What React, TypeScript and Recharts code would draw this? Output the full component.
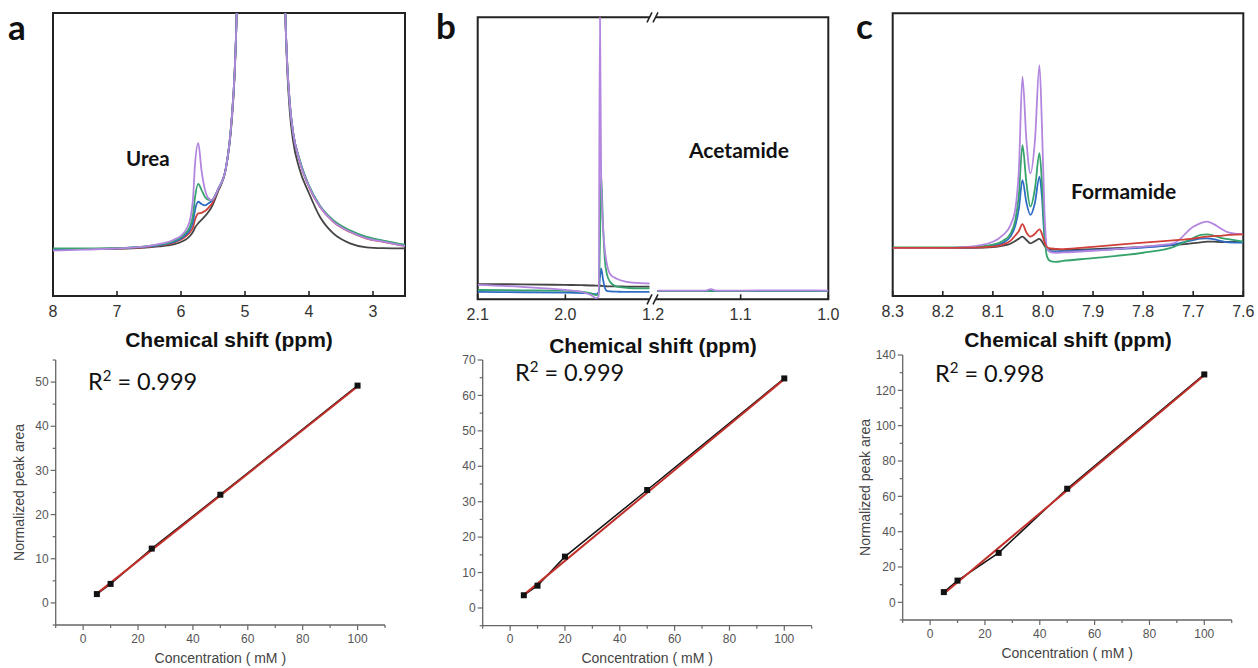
import React from 'react'
import { LineChart, Line, XAxis, YAxis, ReferenceArea, ReferenceLine } from 'recharts'

const ARIAL = '"Liberation Sans", Arial, sans-serif'
const CALIBRI = 'Lato, "Open Sans", sans-serif'

// a: urea spectra, intensity in arbitrary units (0-100 = plot height)
const ureaPpm = [8, 7.5, 7, 6.5, 6.33, 6.12, 5.96, 5.86, 5.81, 5.78, 5.73, 5.68, 5.625, 5.57, 5.52, 5.42, 5.3, 5.21, 5.16, 5.13, 4.75, 4.37, 4.34, 4.3, 4.25, 4.15, 4.0, 3.83, 3.62, 3.36, 3.1, 2.84, 2.5]
const ureaBlack = [16.5, 16.6, 16.7, 17.2, 17.5, 18.2, 19.5, 21.2, 22.8, 24.2, 25.7, 26.9, 28.2, 29.8, 31.5, 37.0, 45, 61, 79, 100, 2000, 100, 80, 65, 55, 45, 36.3, 28, 22.1, 18.6, 17.2, 16.9, 16.8]
const ureaRed = [16.5, 16.6, 16.8, 17.4, 17.9, 18.8, 20.5, 22.5, 24.5, 27.0, 29.2, 29.4, 30.0, 31.2, 32.5, 37.5, 45, 62, 80, 100, 2000, 100, 82, 68, 58, 48, 38.5, 31.5, 26.2, 22.6, 20.3, 19.1, 17.6]
const ureaBlue = [16.5, 16.6, 16.8, 17.5, 18.0, 19.0, 21.0, 23.5, 26.5, 30.5, 33.3, 32.5, 32.0, 32.8, 33.5, 37.8, 45, 62, 80, 100, 2000, 100, 82, 68, 58, 48.2, 38.8, 31.8, 26.5, 23.0, 20.7, 19.4, 17.9]
const ureaGreen = [16.8, 16.8, 16.9, 17.7, 18.2, 19.4, 21.6, 24.5, 29, 35, 39.6, 37.5, 35, 34, 34, 37.8, 45, 62, 80, 100, 2000, 100, 82, 68, 58, 48.5, 39, 32, 26.8, 23.2, 20.9, 19.6, 18.1]
const ureaPurple = [16.0, 16.4, 16.8, 17.7, 18.4, 19.8, 22.2, 26.9, 35.1, 46.9, 54, 44.5, 37.5, 34.5, 33.9, 37.8, 45, 62, 80, 100, 2000, 100, 82, 68, 58, 48, 38.6, 31.6, 26.3, 22.7, 20.4, 19.2, 17.6]
const ureaTicks = [8, 7, 6, 5, 4, 3]

// b: acetamide, axis broken between 1.9 and 1.2 ppm (null row = gap)
const acetPpm = [2.1, 2.05, 2.0, 1.98, 1.97, 1.965, 1.962, 1.9605, 1.9592, 1.957, 1.9548, 1.9528, 1.949, 1.9414, 1.93, 1.918, 1.904, 1.2, 1.195, 1.16, 1.14, 1.134, 1.128, 1.1, 1.05, 1.0]
const acetBlack = [5.4, 5.3, 5.1, 5.0, 4.9, 4.85, 4.8, 4.8, 4.8, 4.7, 4.7, 4.6, 4.6, 4.6, 4.5, 4.5, 4.5, null, 3.0, 3.0, 3.0, 3.0, 3.0, 3.0, 3.0, 3.0]
const acetBlue = [2.6, 2.5, 2.4, 2.2, 2.0, 1.8, 2.5, 8, 11, 7, 4, 3, 2.8, 2.7, 2.6, 2.6, 2.6, null, 3.0, 3.0, 3.0, 3.0, 3.0, 3.0, 3.0, 3.0]
const acetGreen = [3.3, 3.2, 3.0, 2.6, 2.0, 1.5, 1.8, 20, 44, 26, 13.5, 9.2, 6.2, 4.5, 4.1, 3.9, 3.9, null, 3.0, 3.0, 3.0, 3.0, 3.0, 3.0, 3.0, 3.0]
const acetPurple = [5.1, 4.4, 3.3, 2.5, 1.4, 0.4, 1.0, 101, 45, 25.7, 17, 12.8, 9.0, 7.3, 6.2, 5.8, 5.6, null, 3.1, 3.1, 3.1, 3.6, 3.1, 3.1, 3.2, 3.1]
const acetTicks = [2.1, 2.0, 1.2, 1.1, 1.0]

// c: formamide
const formPpm = [8.3, 8.2, 8.15, 8.1, 8.08, 8.065, 8.055, 8.048, 8.041, 8.033, 8.025, 8.016, 8.007, 8.002, 7.997, 7.992, 7.985, 7.975, 7.96, 7.9, 7.8, 7.74, 7.7, 7.685, 7.672, 7.66, 7.645, 7.63, 7.6]
const formBlack = [16.9, 16.9, 17.0, 17.3, 17.8, 18.5, 19.5, 20.3, 21.0, 19.8, 18.6, 19.4, 20.2, 19.3, 17.8, 16.9, 16.5, 16.4, 16.3, 16.6, 17.4, 18.0, 18.7, 19.0, 19.2, 19.2, 19.1, 19.1, 19.2]
const formRed = [17.0, 17.0, 17.1, 17.5, 18.2, 19.5, 21.5, 23, 25.4, 22.5, 21, 22, 23.6, 22, 19, 17.3, 16.8, 16.7, 16.6, 17.4, 18.9, 19.7, 20.3, 20.7, 21.0, 21.2, 21.3, 21.6, 21.8]
const formBlue = [17.0, 17.0, 17.1, 17.8, 18.8, 21, 25, 31, 41, 33, 28.7, 33, 42.2, 35, 21, 16.5, 15.9, 15.7, 15.8, 16.2, 17.1, 18.2, 19.8, 20.3, 20.4, 20.1, 19.5, 19.0, 18.9]
const formGreen = [17.2, 17.2, 17.3, 18.2, 19.5, 22, 27, 36, 53.4, 40, 31.6, 38, 50.5, 40, 22, 14, 12.3, 12.1, 12.4, 13.4, 15.3, 17.3, 20.5, 21.6, 21.8, 21.4, 20.6, 20.1, 19.2]
const formPurple = [16.9, 17.0, 17.4, 19.2, 21.5, 25, 31, 45, 77.6, 55, 43.4, 55, 81.7, 60, 30, 17, 15.5, 15.3, 15.4, 16.0, 17.5, 18.6, 24.5, 25.8, 26.3, 25.5, 23.9, 22.5, 21.8]
const formTicks = [8.3, 8.2, 8.1, 8.0, 7.9, 7.8, 7.7, 7.6]

// calibration curves
const concA = [5, 10, 25, 50, 100]
const areaA = [2.0, 4.3, 12.3, 24.5, 49.2]
const concB = [5, 10, 20, 50, 100]
const areaB = [3.6, 6.3, 14.5, 33.3, 64.8]
const concC = [5, 10, 25, 50, 100]
const areaC = [5.8, 12.3, 28.0, 64.3, 129]
const fitX = [5, 100]
const fitA = [2.1, 49.0]
const fitB = [3.7, 64.6]
const fitC = [4.8, 128.5]
const concTicks = [-10, 0, 10, 20, 30, 40, 50, 60, 70, 80, 90, 100, 110]
const areaTicksA = [-5, 0, 5, 10, 15, 20, 25, 30, 35, 40, 45, 50, 55]
const areaTicksB = [-5, 0, 5, 10, 15, 20, 25, 30, 35, 40, 45, 50, 55, 60, 65, 70]
const areaTicksC = [-10, 0, 10, 20, 30, 40, 50, 60, 70, 80, 90, 100, 110, 120, 130, 140]

const COLORS: Record<string, string> = {
  black: '#454545',
  red: '#d0403a',
  blue: '#2f6dc5',
  green: '#36a36c',
  purple: '#b386df',
}

const brk = (ppm: number) => (ppm >= 1.5 ? ppm - 0.7 : ppm)

const ureaRows = ureaPpm.map((ppm, i) => ({ u: ppm, black: ureaBlack[i], red: ureaRed[i], blue: ureaBlue[i], green: ureaGreen[i], purple: ureaPurple[i] }))
const acetRows = acetPpm.map((ppm, i) => ({ u: brk(ppm), black: acetBlack[i], blue: acetBlue[i], green: acetGreen[i], purple: acetPurple[i] }))
const formRows = formPpm.map((ppm, i) => ({ u: ppm, black: formBlack[i], red: formRed[i], blue: formBlue[i], green: formGreen[i], purple: formPurple[i] }))

const toPts = (xs: number[], ys: number[]) => xs.map((x, i) => ({ x, y: ys[i] }))

const SpecTick = (props: any) => {
  const { x, y, payload, fmt, noLine } = props
  return (
    <g>
      {!noLine?.includes(payload.value) && <line x1={x} x2={x} y1={y} y2={y - 5} stroke="#222" strokeWidth={1.6} />}
      <text x={x} y={y + 20.5} textAnchor="middle" fontSize={16} fontFamily={ARIAL} fill="#333">
        {fmt(payload.value)}
      </text>
    </g>
  )
}

const BreakMarks = (props: any) => {
  const { x, y, height } = props.viewBox
  const mark = (cy: number) => (
    <g>
      <polygon points={`${x - 6},${cy + 5} ${x - 1},${cy - 5} ${x + 5},${cy - 5} ${x},${cy + 5}`} fill="#fff" />
      <line x1={x - 6} y1={cy + 5} x2={x - 1} y2={cy - 5} stroke="#222" strokeWidth={1.5} />
      <line x1={x} y1={cy + 5} x2={x + 5} y2={cy - 5} stroke="#222" strokeWidth={1.5} />
    </g>
  )
  return (
    <g>
      {mark(y)}
      {mark(y + height)}
    </g>
  )
}

const Spectrum = ({ left, width, rows, domain, ticks, fmt, keys, margin, axisHeight, labelOffset, noLine, extra }: any) => (
  <div style={{ position: 'absolute', left, top: 0 }}>
    <LineChart width={width} height={360} data={rows} margin={margin}>
      <XAxis
        type="number"
        dataKey="u"
        domain={domain}
        reversed
        allowDataOverflow
        ticks={ticks}
        interval={0}
        tickSize={0}
        tickMargin={0}
        tickLine={false}
        axisLine={false}
        height={axisHeight}
        tick={(p: any) => <SpecTick {...p} fmt={fmt} noLine={noLine} />}
        label={{ value: 'Chemical shift (ppm)', position: 'insideBottom', offset: labelOffset, fontSize: 21, fontWeight: 700, fontFamily: ARIAL, fill: '#111' }}
      />
      <YAxis hide type="number" domain={[0, 100]} allowDataOverflow />
      <ReferenceArea x1={domain[0]} x2={domain[1]} y1={0} y2={100} fill="none" stroke="#222" strokeWidth={2} ifOverflow="visible" />
      {keys.map((k: string) => (
        <Line key={k} dataKey={k} stroke={COLORS[k]} strokeWidth={1.8} dot={false} type="monotone" isAnimationActive={false} />
      ))}
      {extra}
    </LineChart>
  </div>
)

const XCalTick = (props: any) => {
  const { x, y, payload } = props
  const major = payload.value % 20 === 0
  return (
    <g>
      <line x1={x} x2={x} y1={y} y2={y + (major ? 5 : 3)} stroke="#666" strokeWidth={1.2} />
      {major && (
        <text x={x} y={y + 17.5} textAnchor="middle" fontSize={12} fontFamily={ARIAL} fill="#555">
          {payload.value}
        </text>
      )}
    </g>
  )
}

const YCalTick = (props: any) => {
  const { x, y, payload, step } = props
  const major = payload.value % step === 0
  return (
    <g>
      <line x1={x} x2={x - (major ? 5 : 3)} y1={y} y2={y} stroke="#666" strokeWidth={1.2} />
      {major && (
        <text x={x - 7} y={y + 4.2} textAnchor="end" fontSize={12} fontFamily={ARIAL} fill="#555">
          {payload.value}
        </text>
      )}
    </g>
  )
}

const SquareDot = (props: any) => {
  const { cx, cy } = props
  if (cx == null || cy == null) return null
  return <rect x={cx - 3} y={cy - 3} width={6} height={6} fill="#111" />
}

const Calibration = ({ left, width, pts, fit, yDomain, yTicks, yStep, margin, xAxisHeight, xLabelOffset, yLabelOffset }: any) => (
  <div style={{ position: 'absolute', left, top: 340 }}>
    <LineChart width={width} height={328} margin={margin}>
      <XAxis
        type="number"
        dataKey="x"
        domain={[-10, 110]}
        allowDataOverflow
        ticks={concTicks}
        interval={0}
        tickSize={0}
        tickMargin={0}
        tickLine={false}
        axisLine={{ stroke: '#666', strokeWidth: 1.3 }}
        height={xAxisHeight}
        tick={<XCalTick />}
        label={{ value: 'Concentration ( mM )', position: 'insideBottom', offset: xLabelOffset, fontSize: 14, fontFamily: ARIAL, fill: '#444' }}
      />
      <YAxis
        type="number"
        domain={yDomain}
        allowDataOverflow
        ticks={yTicks}
        interval={0}
        tickSize={0}
        tickMargin={0}
        tickLine={false}
        axisLine={{ stroke: '#666', strokeWidth: 1.3 }}
        width={45}
        tick={<YCalTick step={yStep} />}
        label={
          yLabelOffset != null
            ? { value: 'Normalized peak area', angle: -90, position: 'insideLeft', offset: yLabelOffset, fontSize: 14, fontFamily: ARIAL, fill: '#444', style: { textAnchor: 'middle' } }
            : undefined
        }
      />
      <Line data={pts} dataKey="y" stroke="#111" strokeWidth={1.5} dot={<SquareDot />} type="linear" isAnimationActive={false} />
      <Line data={fit} dataKey="y" stroke="#c0302b" strokeWidth={2} dot={false} type="linear" isAnimationActive={false} />
    </LineChart>
  </div>
)

const R2 = ({ x, y, value }: { x: number; y: number; value: string }) => (
  <text x={x} y={y} fontSize={23.5} fontFamily={CALIBRI} fill="#111">
    R<tspan dy={-9} fontSize={15}>2</tspan>
    <tspan dy={9}> = {value}</tspan>
  </text>
)

export default function App() {
  return (
    <div style={{ position: 'absolute', left: 0, top: 0, width: 1258, height: 668, background: '#fff', overflow: 'hidden' }}>
      <Spectrum
        left={0}
        width={420}
        rows={ureaRows}
        domain={[2.5, 8]}
        ticks={ureaTicks}
        fmt={(v: number) => String(v)}
        keys={['black', 'red', 'blue', 'green', 'purple']}
        margin={{ top: 13, right: 15, bottom: 0, left: 53 }}
        axisHeight={64}
        labelOffset={12.7}
      />
      <Spectrum
        left={420}
        width={420}
        rows={acetRows}
        domain={[1.0, 1.4]}
        ticks={acetTicks.map(brk)}
        fmt={(u: number) => (u > 1.2001 ? u + 0.7 : u).toFixed(1)}
        keys={['black', 'blue', 'green', 'purple']}
        margin={{ top: 17.3, right: 11.7, bottom: 0, left: 57.7 }}
        axisHeight={60.7}
        labelOffset={7.5}
        noLine={[1.2]}
        extra={<ReferenceLine x={1.2} stroke="none" label={(p: any) => <BreakMarks {...p} />} />}
      />
      <Spectrum
        left={840}
        width={418}
        rows={formRows}
        domain={[7.6, 8.3]}
        ticks={formTicks}
        fmt={(v: number) => v.toFixed(1)}
        keys={['black', 'blue', 'green', 'purple', 'red']}
        margin={{ top: 13.3, right: 14.7, bottom: 0, left: 52.7 }}
        axisHeight={64}
        labelOffset={13}
      />

      <Calibration
        left={0}
        width={420}
        pts={toPts(concA, areaA)}
        fit={toPts(fitX, fitA)}
        yDomain={[-5, 55]}
        yTicks={areaTicksA}
        yStep={10}
        margin={{ top: 20, right: 35, bottom: 0, left: 10.7 }}
        xAxisHeight={43}
        xLabelOffset={5}
        yLabelOffset={8}
      />
      <Calibration
        left={420}
        width={420}
        pts={toPts(concB, areaB)}
        fit={toPts(fitX, fitB)}
        yDomain={[-5, 70]}
        yTicks={areaTicksB}
        yStep={10}
        margin={{ top: 20, right: 28.3, bottom: 0, left: 17.7 }}
        xAxisHeight={42.3}
        xLabelOffset={4.7}
      />
      <Calibration
        left={840}
        width={418}
        pts={toPts(concC, areaC)}
        fit={toPts(fitX, fitC)}
        yDomain={[-10, 140]}
        yTicks={areaTicksC}
        yStep={20}
        margin={{ top: 15, right: 26.3, bottom: 0, left: 17.7 }}
        xAxisHeight={48}
        xLabelOffset={10}
        yLabelOffset={7.3}
      />

      <svg width={1258} height={668} style={{ position: 'absolute', left: 0, top: 0, pointerEvents: 'none' }}>
        <g fontFamily={CALIBRI} fontWeight={700} fill="#111">
          <text x={8} y={39.5} fontSize={35}>a</text>
          <text x={436} y={39} fontSize={35}>b</text>
          <text x={856} y={39} fontSize={35}>c</text>
          <text x={126} y={165.7} fontSize={20.5}>Urea</text>
          <text x={689} y={158.3} fontSize={21}>Acetamide</text>
          <text x={1071} y={199} fontSize={21}>Formamide</text>
        </g>
        <R2 x={88} y={390} value="0.999" />
        <R2 x={515} y={380.7} value="0.999" />
        <R2 x={935} y={381.7} value="0.998" />
      </svg>
    </div>
  )
}
